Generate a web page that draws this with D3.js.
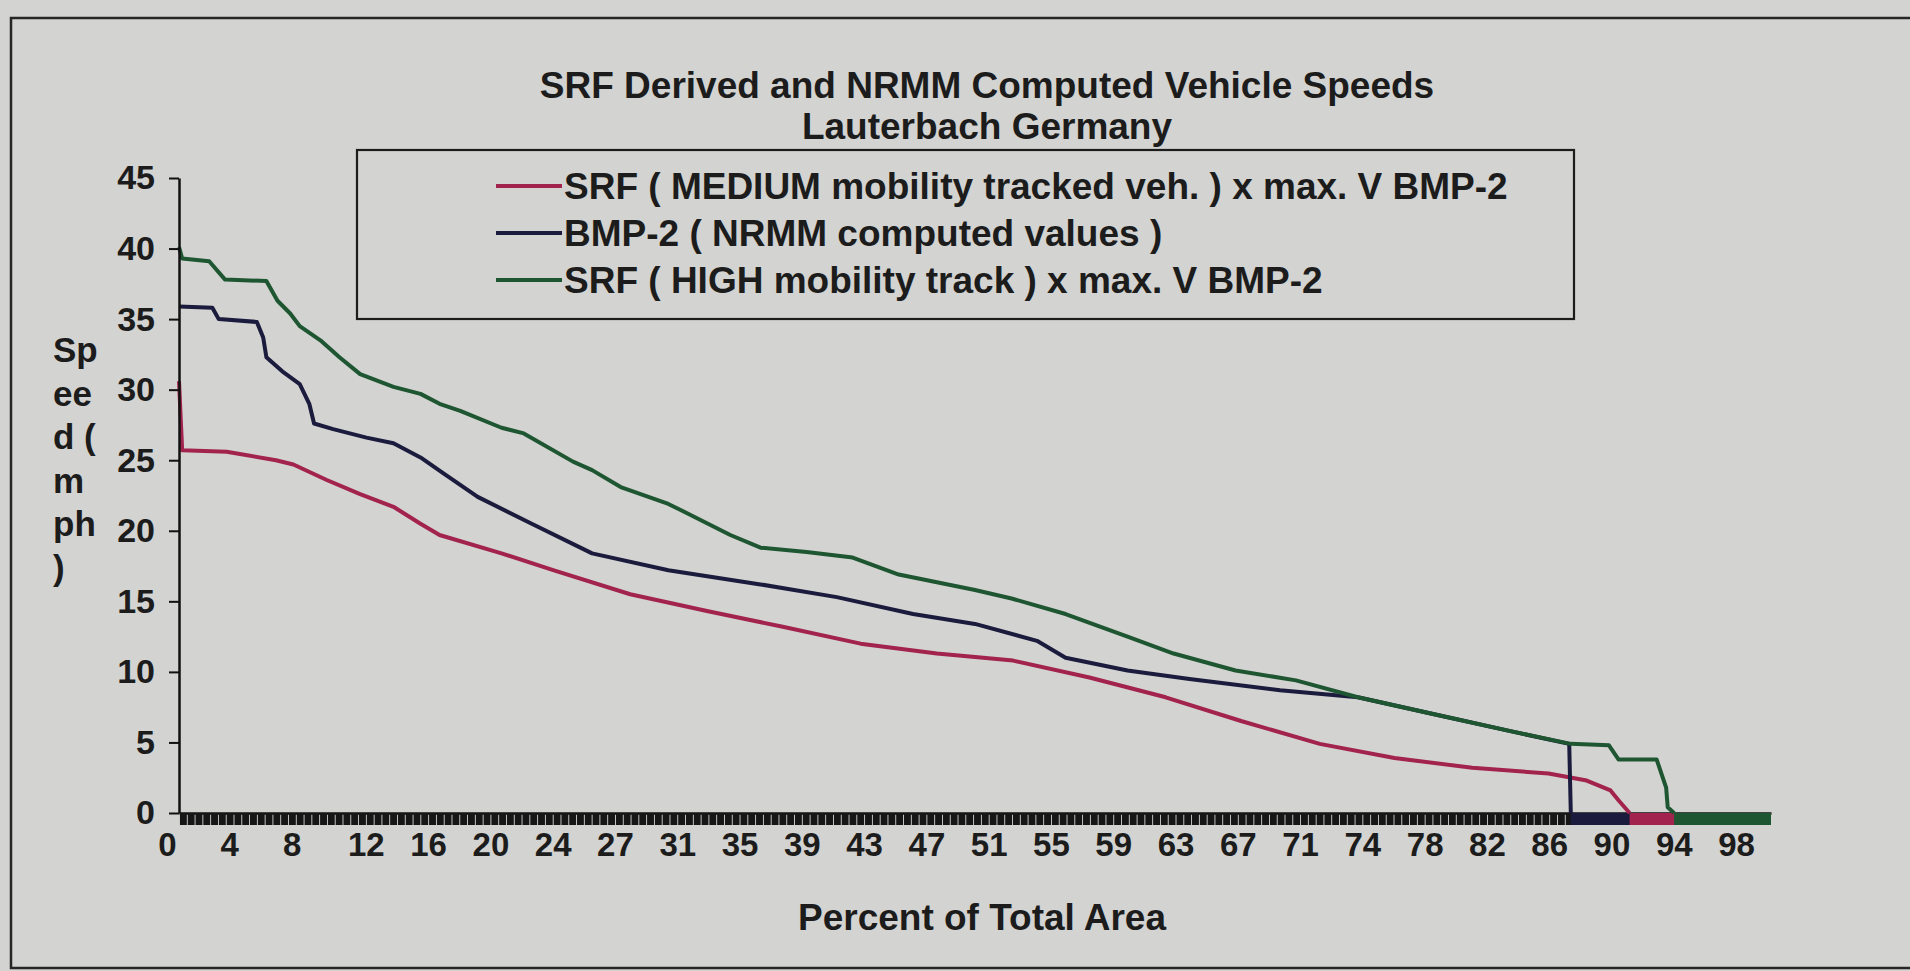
<!DOCTYPE html>
<html>
<head>
<meta charset="utf-8">
<script src="https://cdn.jsdelivr.net/npm/d3@7"></script>
<style>
  body { margin: 0; background: #d3d3d1; }
  svg { display: block; }
  text { font-family: "Liberation Sans", Arial, sans-serif; font-weight: bold; fill: #1c1c1c; }
</style>
</head>
<body>
<div id="wrapper"></div>
<script>
// Data (percent of total area, speed in mph)
const mediumPct = [0, 0.2, 3.0, 6.1, 7.2, 9.3, 11.4, 13.5, 15.2, 16.4, 20.3, 23.6, 28.4, 33.3, 38.0, 42.9,
  47.7, 52.5, 57.3, 62.1, 66.9, 71.8, 76.5, 81.4, 86.2, 88.6, 90.1, 90.6, 91.3, 100.2]
const mediumSpeed = [30.6, 25.7, 25.6, 25.0, 24.7, 23.6, 22.6, 21.7, 20.5, 19.7, 18.4, 17.2, 15.5, 14.3, 13.2, 12.0,
  11.3, 10.8, 9.6, 8.2, 6.5, 4.9, 3.9, 3.2, 2.8, 2.3, 1.6, 0.9, 0, 0]

const bmpPct = [0, 2.1, 2.5, 4.9, 5.3, 5.5, 6.5, 7.6, 8.2, 8.5, 9.7, 11.8, 13.5, 15.2, 16.6, 18.8, 22.2, 26.0,
  30.8, 36.6, 41.4, 46.2, 50.1, 54.0, 55.8, 59.7, 63.6, 69.3, 74.2, 79.0, 83.8, 87.5, 87.6, 100.2]
const bmpSpeed = [35.9, 35.8, 35.0, 34.8, 33.7, 32.3, 31.3, 30.4, 29.0, 27.6, 27.2, 26.6, 26.2, 25.2, 24.1, 22.4, 20.5, 18.4,
  17.2, 16.2, 15.3, 14.1, 13.4, 12.2, 11.0, 10.1, 9.5, 8.7, 8.2, 7.0, 5.8, 4.9, 0, 0]

const highPct = [0, 0.2, 1.9, 2.9, 5.5, 6.2, 7.0, 7.6, 8.9, 10.1, 11.4, 13.5, 15.2, 16.4, 17.7, 20.3, 21.7, 24.8,
  26.0, 27.8, 30.8, 31.7, 34.7, 36.6, 39.5, 42.4, 45.3, 50.1, 52.4, 55.8, 59.7, 62.6, 66.5, 70.3, 74.2, 79.0,
  83.8, 87.6, 90.0, 90.6, 93.0, 93.6, 93.7, 94.1, 100.2]
const highSpeed = [40.1, 39.3, 39.1, 37.8, 37.7, 36.3, 35.4, 34.5, 33.5, 32.3, 31.1, 30.2, 29.7, 29.0, 28.5, 27.3, 26.9, 24.9,
  24.3, 23.1, 21.9, 21.4, 19.7, 18.8, 18.5, 18.1, 16.9, 15.8, 15.2, 14.1, 12.5, 11.3, 10.1, 9.4, 8.2, 7.0,
  5.8, 4.9, 4.8, 3.8, 3.8, 1.8, 0.4, 0, 0]

const seriesNames = [
  "SRF ( MEDIUM mobility tracked veh. ) x max. V BMP-2",
  "BMP-2 ( NRMM computed values )",
  "SRF ( HIGH mobility track ) x max. V BMP-2",
]
const seriesColors = ["#a3234f", "#1b1b3d", "#1f5632"]

const xTickLabels = [0, 4, 8, 12, 16, 20, 24, 27, 31, 35, 39, 43, 47, 51, 55, 59, 63, 67, 71, 74, 78, 82, 86, 90, 94, 98]
const yTicks = [0, 5, 10, 15, 20, 25, 30, 35, 40, 45]
const yLabelLines = ["Sp", "ee", "d (", "m", "ph", ")"]

const titleLines = ["SRF Derived and NRMM Computed Vehicle Speeds", "Lauterbach Germany"]
const xTitle = "Percent of Total Area"

function drawChart() {

  const series = [
    { name: seriesNames[0], color: seriesColors[0], values: mediumPct.map((p, i) => ({ pct: p, speed: mediumSpeed[i] })) },
    { name: seriesNames[1], color: seriesColors[1], values: bmpPct.map((p, i) => ({ pct: p, speed: bmpSpeed[i] })) },
    { name: seriesNames[2], color: seriesColors[2], values: highPct.map((p, i) => ({ pct: p, speed: highSpeed[i] })) },
  ]

  // Chart dimensions
  let dimensions = {
    width: 1910,
    height: 971,
    margin: { top: 178, left: 179 },
  }
  dimensions.boundedWidth = 1592
  dimensions.boundedHeight = 635

  const wrapper = d3.select("#wrapper")
    .append("svg")
    .attr("width", dimensions.width)
    .attr("height", dimensions.height)

  // outer frame
  wrapper.append("rect")
    .attr("x", 11)
    .attr("y", 18)
    .attr("width", 1950)
    .attr("height", 950)
    .attr("fill", "none")
    .attr("stroke", "#262626")
    .attr("stroke-width", 2.5)

  const bounds = wrapper.append("g")
    .attr("transform", `translate(${dimensions.margin.left},${dimensions.margin.top})`)

  // Scales
  const xScale = d3.scaleLinear()
    .domain([0, 100.2])
    .range([0, dimensions.boundedWidth])

  const yScale = d3.scaleLinear()
    .domain([0, 45])
    .range([dimensions.boundedHeight, 0])

  const labelStep = xTickLabels[xTickLabels.length - 1] / (xTickLabels.length - 1)
  const labelPositions = xTickLabels.map((d, i) => i * labelStep)
  const categoryTicks = d3.range(labelStep / 16, 100.1, labelStep / 8)

  // x axis band (dense category ticks)
  const bandAxis = bounds.append("g")
    .attr("transform", `translate(0,${dimensions.boundedHeight})`)
    .call(d3.axisBottom(xScale).tickValues(categoryTicks).tickSize(12).tickSizeOuter(0).tickFormat(""))
  bandAxis.select(".domain").attr("stroke", "#111").attr("stroke-width", 2.5)
  bandAxis.selectAll(".tick line").attr("stroke", "#161616").attr("stroke-width", 6.9)

  // zero tails of each series sit in the band
  const line = d3.line()
    .x(d => xScale(d.pct))
    .y(d => yScale(d.speed))

  const tailOrder = [1, 0, 2]
  tailOrder.forEach(k => {
    const s = series[k]
    const firstZero = s.values.findIndex(d => d.speed === 0)
    bounds.append("path")
      .datum(s.values.slice(firstZero))
      .attr("d", line)
      .attr("transform", "translate(0,6)")
      .attr("fill", "none")
      .attr("stroke", s.color)
      .attr("stroke-width", 12)
  })

  // main lines
  series.forEach(s => {
    const firstZero = s.values.findIndex(d => d.speed === 0)
    bounds.append("path")
      .datum(s.values.slice(0, firstZero + 1))
      .attr("d", line)
      .attr("fill", "none")
      .attr("stroke", s.color)
      .attr("stroke-width", 4)
      .attr("stroke-linejoin", "round")
  })

  // y axis
  const yAxis = bounds.append("g")
    .call(d3.axisLeft(yScale).tickValues(yTicks).tickSize(10).tickSizeOuter(0).tickPadding(14))
  yAxis.select(".domain").attr("stroke", "#111").attr("stroke-width", 2.5)
  yAxis.selectAll(".tick line").attr("stroke", "#111").attr("stroke-width", 2)
  yAxis.selectAll(".tick text")
    .attr("fill", "#1c1c1c")
    .style("font-size", "34px")
    .style("font-family", "'Liberation Sans', Arial, sans-serif")
    .style("font-weight", "bold")

  // x tick labels
  const xAxis = bounds.append("g")
    .attr("transform", `translate(0,${dimensions.boundedHeight})`)
    .call(d3.axisBottom(xScale).tickValues(labelPositions).tickSize(0).tickPadding(20)
      .tickFormat((d, i) => xTickLabels[i]))
  xAxis.select(".domain").remove()
  xAxis.selectAll(".tick text")
    .attr("fill", "#1c1c1c")
    .attr("dx", (d, i) => xTickLabels[i] < 10 ? -12 : 0)
    .style("font-size", "33px")
    .style("font-family", "'Liberation Sans', Arial, sans-serif")
    .style("font-weight", "bold")

  // y axis label, stacked
  wrapper.append("g")
    .selectAll("text")
    .data(yLabelLines)
    .join("text")
    .attr("x", 53)
    .attr("y", (d, i) => 362 + i * 43.5)
    .style("font-size", "35px")
    .text(d => d)

  // x axis title
  wrapper.append("text")
    .attr("x", 982)
    .attr("y", 930)
    .attr("text-anchor", "middle")
    .style("font-size", "37px")
    .text(xTitle)

  // title
  wrapper.append("g")
    .selectAll("text")
    .data(titleLines)
    .join("text")
    .attr("x", 987)
    .attr("y", (d, i) => 98 + i * 41)
    .attr("text-anchor", "middle")
    .style("font-size", "37px")
    .text(d => d)

  // legend
  const legend = wrapper.append("g")
  legend.append("rect")
    .attr("x", 357)
    .attr("y", 150)
    .attr("width", 1217)
    .attr("height", 169)
    .attr("fill", "none")
    .attr("stroke", "#1c1c1c")
    .attr("stroke-width", 2.2)

  const items = legend.selectAll(".item")
    .data(series)
    .join("g")
    .attr("class", "item")
    .attr("transform", (d, i) => `translate(496,${186 + i * 47})`)
  items.append("line")
    .attr("x1", 0)
    .attr("x2", 66)
    .attr("stroke", d => d.color)
    .attr("stroke-width", 4)
  items.append("text")
    .attr("x", 68)
    .attr("dy", "0.36em")
    .style("font-size", "37px")
    .text(d => d.name)
}
drawChart()
</script>
</body>
</html>
